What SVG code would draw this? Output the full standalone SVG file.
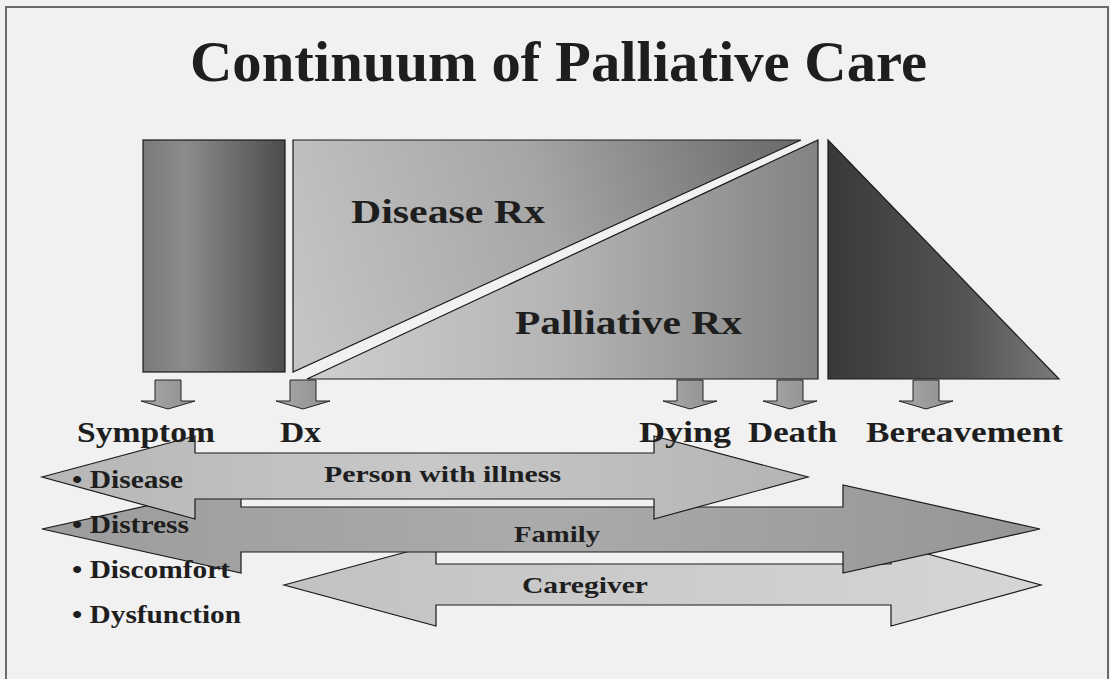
<svg xmlns="http://www.w3.org/2000/svg" width="1110" height="679" viewBox="0 0 1110 679">
  <style>
    .t { font-family: "Liberation Serif", "Times New Roman", serif; font-weight: bold; fill: #1e1e1e; }
    .shape { stroke: #1a1a1a; stroke-width: 1.2; stroke-linejoin: miter; }
    .dn { fill: url(#gDown); stroke: #222; stroke-width: 1; }
  </style>
  <defs>
    <linearGradient id="gLeft" x1="0" y1="0" x2="1" y2="0">
      <stop offset="0" stop-color="#7a7a7a"/>
      <stop offset="0.3" stop-color="#8c8c8c"/>
      <stop offset="1" stop-color="#4c4c4c"/>
    </linearGradient>
    <linearGradient id="gUpper" gradientUnits="userSpaceOnUse" x1="293" y1="300" x2="801" y2="140">
      <stop offset="0" stop-color="#c4c4c4"/>
      <stop offset="0.5" stop-color="#a6a6a6"/>
      <stop offset="1" stop-color="#686868"/>
    </linearGradient>
    <linearGradient id="gLower" gradientUnits="userSpaceOnUse" x1="307" y1="300" x2="818" y2="300">
      <stop offset="0" stop-color="#cfcfcf"/>
      <stop offset="0.5" stop-color="#b4b4b4"/>
      <stop offset="1" stop-color="#838383"/>
    </linearGradient>
    <linearGradient id="gTri" gradientUnits="userSpaceOnUse" x1="828" y1="300" x2="1059" y2="300">
      <stop offset="0" stop-color="#393939"/>
      <stop offset="0.6" stop-color="#545454"/>
      <stop offset="1" stop-color="#7a7a7a"/>
    </linearGradient>
    <linearGradient id="gDown" x1="0" y1="0" x2="1" y2="0">
      <stop offset="0" stop-color="#a9a9a9"/>
      <stop offset="1" stop-color="#8e8e8e"/>
    </linearGradient>
    <linearGradient id="gPerson" gradientUnits="userSpaceOnUse" x1="42" y1="0" x2="808" y2="0">
      <stop offset="0" stop-color="#b6b6b6"/>
      <stop offset="0.5" stop-color="#c8c8c8"/>
      <stop offset="1" stop-color="#b4b4b4"/>
    </linearGradient>
    <linearGradient id="gFamily" gradientUnits="userSpaceOnUse" x1="42" y1="0" x2="1040" y2="0">
      <stop offset="0" stop-color="#9c9c9c"/>
      <stop offset="0.5" stop-color="#ababab"/>
      <stop offset="1" stop-color="#959595"/>
    </linearGradient>
    <linearGradient id="gCare" gradientUnits="userSpaceOnUse" x1="284" y1="0" x2="1041" y2="0">
      <stop offset="0" stop-color="#c2c2c2"/>
      <stop offset="1" stop-color="#d6d6d6"/>
    </linearGradient>
    <path id="dnArrow" d="M -13 380 L 13 380 L 13 401 L 27 401 L 0 409 L -27 401 L -13 401 Z"/>
  </defs>

  <rect x="0" y="0" width="1110" height="679" fill="#f1f1f1"/>
  <path d="M 6 679 L 6 7 L 1108 7 L 1108 679" fill="none" stroke="#6a6a6a" stroke-width="2"/>

  <text class="t" x="190" y="81" font-size="58" textLength="737" lengthAdjust="spacingAndGlyphs">Continuum of Palliative Care</text>

  <g id="symptom-phase">
    <rect class="shape" x="143" y="140" width="142" height="232" fill="url(#gLeft)"/>
  </g>
  <g id="disease-rx">
    <polygon class="shape" points="293,140 801,140 293,372" fill="url(#gUpper)"/>
    <text class="t" x="351" y="223" font-size="33" textLength="194" lengthAdjust="spacingAndGlyphs">Disease Rx</text>
  </g>
  <g id="palliative-rx">
    <polygon class="shape" points="307,379 818,140 818,379" fill="url(#gLower)"/>
    <text class="t" x="515" y="334" font-size="33" textLength="227" lengthAdjust="spacingAndGlyphs">Palliative Rx</text>
  </g>
  <g id="bereavement-phase">
    <polygon class="shape" points="828,140 828,379 1059,379" fill="url(#gTri)"/>
  </g>

  <g id="connectors">
    <use href="#dnArrow" class="dn" x="168"/>
    <use href="#dnArrow" class="dn" x="303"/>
    <use href="#dnArrow" class="dn" x="690"/>
    <use href="#dnArrow" class="dn" x="790"/>
    <use href="#dnArrow" class="dn" x="926"/>
  </g>

  <g id="caregiver">
    <polygon class="shape" points="284,585 436,544 436,564 891,564 891,544 1041,585 891,626 891,605 436,605 436,626" fill="url(#gCare)"/>
    <text class="t" x="522" y="593" font-size="23" textLength="126" lengthAdjust="spacingAndGlyphs">Caregiver</text>
  </g>
  <g id="family">
    <polygon class="shape" points="42,529 241,485 241,507 843,507 843,485 1040,529 843,573 843,552 241,552 241,573" fill="url(#gFamily)"/>
    <text class="t" x="514" y="542" font-size="23" textLength="86" lengthAdjust="spacingAndGlyphs">Family</text>
  </g>
  <g id="person-with-illness">
    <polygon class="shape" points="42,477 195,436 195,453 654,453 654,436 808,477 654,519 654,499 195,499 195,519" fill="url(#gPerson)"/>
    <text class="t" x="324" y="482" font-size="23" textLength="237" lengthAdjust="spacingAndGlyphs">Person with illness</text>
  </g>

  <g id="stage-labels">
    <text class="t" x="77" y="442" font-size="30" textLength="138" lengthAdjust="spacingAndGlyphs">Symptom</text>
    <text class="t" x="280" y="442" font-size="30" textLength="41" lengthAdjust="spacingAndGlyphs">Dx</text>
    <text class="t" x="639" y="442" font-size="30" textLength="92" lengthAdjust="spacingAndGlyphs">Dying</text>
    <text class="t" x="748" y="442" font-size="30" textLength="89" lengthAdjust="spacingAndGlyphs">Death</text>
    <text class="t" x="866" y="442" font-size="30" textLength="197" lengthAdjust="spacingAndGlyphs">Bereavement</text>
  </g>

  <g id="symptom-list">
    <text class="t" x="72" y="488" font-size="25" textLength="111" lengthAdjust="spacingAndGlyphs">• Disease</text>
    <text class="t" x="72" y="533" font-size="25" textLength="117" lengthAdjust="spacingAndGlyphs">• Distress</text>
    <text class="t" x="72" y="578" font-size="25" textLength="158" lengthAdjust="spacingAndGlyphs">• Discomfort</text>
    <text class="t" x="72" y="623" font-size="25" textLength="169" lengthAdjust="spacingAndGlyphs">• Dysfunction</text>
  </g>
</svg>
